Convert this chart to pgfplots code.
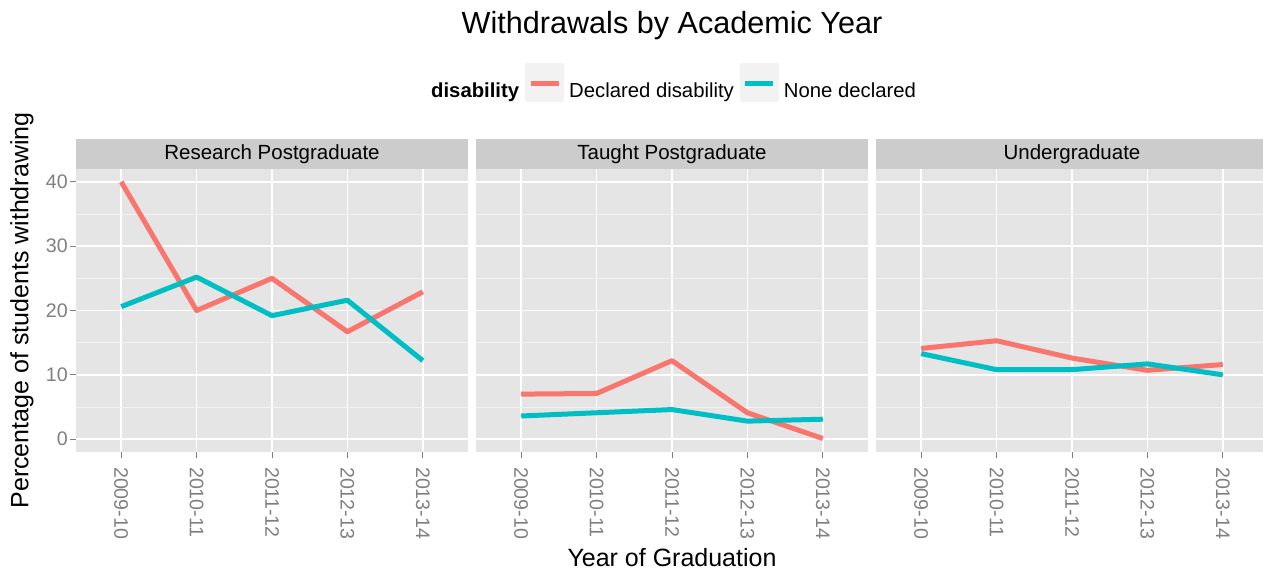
\documentclass[border=0pt]{standalone}
\usepackage{fontspec}
\setmainfont{Liberation Sans}
\usepackage{pgfplots}
\pgfplotsset{compat=1.18}

\definecolor{declared}{HTML}{F8766D}
\definecolor{nonedecl}{HTML}{00BFC4}
\definecolor{panelbg}{HTML}{E5E5E5}
\definecolor{stripbg}{HTML}{CCCCCC}
\definecolor{minorgrid}{HTML}{F2F2F2}
\definecolor{keybg}{HTML}{F2F2F2}
\definecolor{grey50}{HTML}{7F7F7F}

\newcommand{\tickfont}{\fontsize{19.6}{23}\selectfont}
\newcommand{\stripfont}{\fontsize{20.5}{24}\selectfont}
\newcommand{\axisfont}{\fontsize{25}{30}\selectfont}

\pgfplotsset{
  facet/.style={
    scale only axis, width=392pt, height=283pt,
    anchor=south west,
    xmin=0.4, xmax=5.6, ymin=-2, ymax=42,
    axis background/.style={fill=panelbg},
    axis line style={draw=none},
    xtick={1,2,3,4,5},
    xticklabels={2009-10,2010-11,2011-12,2012-13,2013-14},
    ytick={0,10,20,30,40},
    minor ytick={5,15,25,35},
    grid=both,
    major grid style={white, line width=1.6pt},
    minor grid style={minorgrid, line width=0.8pt},
    tick pos=left, tick align=outside,
    major tick length=6pt, minor tick length=0pt,
    tick style={grey50, line width=1pt},
    xticklabel style={rotate=-90, anchor=west, inner sep=0pt, inner xsep=9pt,
      font=\tickfont, text=grey50},
    yticklabel style={font=\tickfont, text=grey50, inner sep=0pt, xshift=-2pt},
    /pgf/number format/assume math mode=true,
    clip=false,
  },
  noyaxis/.style={
    yticklabels={}, y tick style={draw=none},
  },
  facetline/.style={
    line width=5pt, line cap=butt, line join=round, no marks,
    legend image code/.code={
      \fill[keybg] (0pt,-9pt) rectangle (34pt,25pt);
      \draw[##1] (3pt,7.5pt) -- (31pt,7.5pt);
    },
  },
}

\begin{document}
\begin{tikzpicture}
\useasboundingbox (0pt,0pt) rectangle (1263pt,571pt);

% chart title
\node[font=\fontsize{30.6}{36}\selectfont] at (672pt,545pt) {Withdrawals by Academic Year};

% Research Postgraduate
\begin{axis}[facet, name=rp, at={(76pt,119pt)},
  ylabel={Percentage of students withdrawing},
  ylabel style={at={(axis description cs:-0.138,0.5)}, anchor=center, font=\axisfont},
]
\addplot[facetline, declared] coordinates {(1,40.0) (2,20.0) (3,25.0) (4,16.7) (5,22.9)};
\addplot[facetline, nonedecl] coordinates {(1,20.6) (2,25.2) (3,19.2) (4,21.6) (5,12.2)};
\end{axis}

% Taught Postgraduate
\begin{axis}[facet, noyaxis, name=tp, at={(476pt,119pt)},
  xlabel={Year of Graduation},
  xlabel style={at={(axis description cs:0.5,-0.3746)}, anchor=center, font=\axisfont},
  legend columns=-1,
  legend style={at={(axis description cs:-0.1276,1.304)}, anchor=west,
    draw=none, fill=none, inner sep=0pt,
    nodes={inner sep=0pt}, font=\fontsize{20.3}{24}\selectfont,
    /tikz/every odd column/.append style={column sep=5pt},
    /tikz/every even column/.append style={column sep=6pt}},
]
\addlegendimage{empty legend}
\addlegendentry{\textbf{disability}}
\addplot[facetline, declared] coordinates {(1,7.0) (2,7.1) (3,12.2) (4,4.1) (5,0.1)};
\addlegendentry{Declared disability}
\addplot[facetline, nonedecl] coordinates {(1,3.6) (2,4.1) (3,4.6) (4,2.8) (5,3.1)};
\addlegendentry{None declared}
\end{axis}

% Undergraduate
\begin{axis}[facet, noyaxis, name=ug, at={(876pt,119pt)}]
\addplot[facetline, declared] coordinates {(1,14.1) (2,15.3) (3,12.6) (4,10.7) (5,11.6)};
\addplot[facetline, nonedecl] coordinates {(1,13.3) (2,10.8) (3,10.8) (4,11.7) (5,10.0)};
\end{axis}

% facet strips
\foreach \p/\t in {rp/Research Postgraduate, tp/Taught Postgraduate, ug/Undergraduate}{
  \fill[stripbg] (\p.north west) rectangle ([yshift=30pt]\p.north east);
  \node[font=\stripfont] at ([yshift=15pt]\p.north) {\t};
}
\end{tikzpicture}
\end{document}
